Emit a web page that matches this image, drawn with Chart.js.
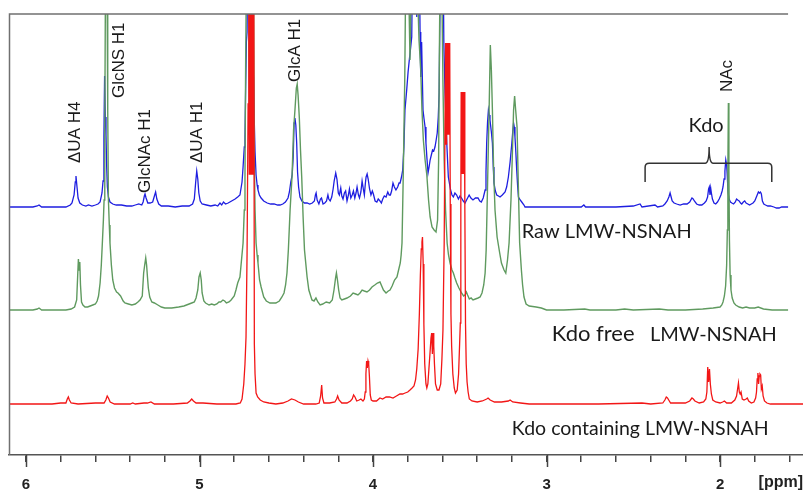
<!DOCTYPE html>
<html><head><meta charset="utf-8">
<script src="https://cdn.jsdelivr.net/npm/chart.js@4/dist/chart.umd.min.js"></script>
<style>html,body{margin:0;padding:0;background:#fff;}canvas{display:block}</style>
</head><body>
<canvas id="c" width="803" height="493"></canvas>
<script>
// ================= DATA (chemical shift in ppm, intensity above each trace's baseline) =================
const seriesNames = ['Raw LMW-NSNAH', 'Kdo free LMW-NSNAH', 'Kdo containing LMW-NSNAH'];
const xTickValues = [6, 5.8, 5.6, 5.4, 5.2, 5, 4.8, 4.6, 4.4, 4.2, 4, 3.8, 3.6, 3.4, 3.2, 3, 2.8, 2.6, 2.4, 2.2, 2, 1.8, 1.6];
const xUnit = '[ppm]';

// Raw LMW-NSNAH (blue)
const rawSpectrum = [[6.098,0],[5.96,0],[5.935,1],[5.925,2],[5.91,0],[5.77,0],[5.745,2],[5.735,4],[5.723,12],[5.716,25],[5.712,31],[5.706,20],[5.700,9],[5.69,4],[5.675,2],[5.655,1],[5.64,2],[5.62,1],[5.60,2],[5.585,3],[5.573,5],[5.562,14],[5.556,26],[5.551,70],[5.547,131],[5.543,90],[5.539,72],[5.535,40],[5.531,20],[5.525,10],[5.516,5],[5.50,3],[5.48,2],[5.45,2],[5.42,1],[5.39,1],[5.37,2],[5.35,3],[5.333,2],[5.325,5],[5.318,11],[5.314,13],[5.308,9],[5.298,4],[5.285,4],[5.27,5],[5.26,11],[5.253,15],[5.246,8],[5.235,3],[5.22,1],[5.18,1],[5.14,0],[5.10,1],[5.06,1],[5.04,3],[5.03,8],[5.022,25],[5.016,36],[5.010,28],[5.004,14],[4.996,6],[4.985,3],[4.96,2],[4.935,1],[4.91,2],[4.895,1],[4.882,4],[4.872,2],[4.862,5],[4.85,3],[4.835,4],[4.815,6],[4.795,8],[4.78,10],[4.767,12],[4.755,25],[4.749,40],[4.742,60],[4.738,69],[4.734,120],[4.73,165],[4.726,175],[4.72,300],[4.70,300],[4.694,145],[4.689,130],[4.685,90],[4.680,55],[4.674,32],[4.668,22],[4.663,17],[4.655,12],[4.645,9],[4.63,6],[4.61,4],[4.59,3],[4.57,3],[4.55,2],[4.536,2],[4.52,3],[4.505,5],[4.49,9],[4.482,15],[4.474,25],[4.466,32],[4.46,50],[4.455,84],[4.450,89],[4.445,82],[4.440,64],[4.435,35],[4.429,20],[4.421,10],[4.41,6],[4.395,4],[4.38,4],[4.365,3],[4.35,4],[4.338,6],[4.332,12],[4.328,14],[4.322,7],[4.312,3],[4.303,8],[4.297,9],[4.288,3],[4.278,4],[4.268,6],[4.26,12],[4.255,8],[4.247,6],[4.238,10],[4.23,18],[4.224,26],[4.215,34],[4.208,28],[4.20,14],[4.194,12],[4.186,19],[4.18,11],[4.173,8],[4.165,14],[4.158,16],[4.15,6],[4.142,12],[4.136,18],[4.128,9],[4.12,12],[4.113,16],[4.105,9],[4.098,14],[4.092,20],[4.084,12],[4.078,9],[4.07,15],[4.063,26],[4.056,18],[4.05,12],[4.044,24],[4.04,30],[4.034,33],[4.028,28],[4.02,18],[4.012,12],[4.004,16],[3.998,13],[3.988,6],[3.978,5],[3.97,8],[3.96,6],[3.952,4],[3.944,8],[3.935,11],[3.925,10],[3.915,15],[3.907,12],[3.90,12],[3.893,16],[3.885,24],[3.877,20],[3.868,17],[3.858,20],[3.85,24],[3.844,24],[3.836,30],[3.829,37],[3.822,60],[3.816,97],[3.806,117],[3.798,135],[3.791,147],[3.784,158],[3.777,170],[3.772,250],[3.769,300],[3.752,300],[3.748,190],[3.744,300],[3.736,300],[3.729,175],[3.725,130],[3.72,165],[3.712,97],[3.706,88],[3.700,80],[3.695,64],[3.689,48],[3.683,34],[3.677,40],[3.671,47],[3.664,52],[3.657,57],[3.65,56],[3.643,60],[3.637,66],[3.63,74],[3.624,90],[3.619,114],[3.614,200],[3.611,300],[3.598,300],[3.592,164],[3.585,114],[3.58,90],[3.575,64],[3.566,30],[3.553,17],[3.545,12],[3.537,10],[3.528,14],[3.518,12],[3.508,8],[3.499,11],[3.49,9],[3.48,6],[3.47,4],[3.458,8],[3.446,12],[3.436,9],[3.424,7],[3.41,9],[3.395,9],[3.385,6],[3.376,5],[3.365,9],[3.354,17],[3.349,35],[3.345,64],[3.34,85],[3.335,97],[3.33,92],[3.326,87],[3.318,75],[3.312,64],[3.307,40],[3.303,24],[3.295,16],[3.287,12],[3.277,11],[3.268,10],[3.255,12],[3.239,15],[3.23,20],[3.22,30],[3.21,45],[3.2,64],[3.195,75],[3.19,84],[3.186,80],[3.182,70],[3.177,55],[3.172,37],[3.167,22],[3.162,10],[3.152,7],[3.143,5],[3.13,2],[3.124,0],[3.0,0],[2.8,0],[2.785,2],[2.775,0],[2.60,0],[2.50,1],[2.461,3],[2.45,0],[2.375,2],[2.36,0],[2.33,1],[2.318,3],[2.305,6],[2.295,10],[2.288,14],[2.282,10],[2.276,6],[2.265,4],[2.25,3],[2.23,2],[2.21,3],[2.19,3],[2.175,5],[2.162,9],[2.155,8],[2.148,6],[2.135,3],[2.12,2],[2.105,2],[2.09,4],[2.08,6],[2.072,10],[2.066,18],[2.062,20],[2.058,12],[2.054,19],[2.05,14],[2.044,8],[2.035,4],[2.025,3],[2.015,5],[2.005,8],[1.995,12],[1.988,16],[1.983,20],[1.977,28],[1.972,36],[1.967,47],[1.962,42],[1.958,30],[1.954,15],[1.948,8],[1.94,5],[1.932,4],[1.922,3],[1.912,5],[1.905,8],[1.898,7],[1.89,6],[1.882,4],[1.875,3],[1.866,5],[1.858,6],[1.85,4],[1.84,3],[1.83,2],[1.82,3],[1.81,4],[1.8,6],[1.793,9],[1.786,12],[1.779,15],[1.773,14],[1.767,15],[1.762,13],[1.756,6],[1.748,3],[1.738,2],[1.725,1],[1.71,1],[1.69,0],[1.675,-1],[1.66,-1],[1.645,0],[1.608,0]];

// Kdo free LMW-NSNAH (green)
const kdoFreeSpectrum = [[6.098,0],[5.96,0],[5.935,1],[5.925,2],[5.91,0],[5.77,0],[5.74,1],[5.72,3],[5.708,10],[5.702,35],[5.698,51],[5.694,40],[5.69,48],[5.686,25],[5.68,8],[5.672,5],[5.66,3],[5.645,3],[5.63,4],[5.615,5],[5.60,6],[5.59,9],[5.582,14],[5.573,27],[5.566,45],[5.56,67],[5.554,90],[5.55,110],[5.546,180],[5.542,330],[5.533,330],[5.529,200],[5.525,110],[5.52,85],[5.516,67],[5.508,45],[5.50,30],[5.49,22],[5.478,18],[5.47,17],[5.455,14],[5.44,9],[5.43,7],[5.41,6],[5.39,5],[5.37,6],[5.355,8],[5.343,10],[5.33,14],[5.322,37],[5.316,45],[5.310,52],[5.305,45],[5.300,33],[5.295,22],[5.287,13],[5.275,8],[5.26,7],[5.24,5],[5.22,3],[5.20,2],[5.16,2],[5.12,3],[5.09,4],[5.06,6],[5.045,7],[5.03,8],[5.02,12],[5.01,20],[5.003,33],[4.996,37],[4.99,30],[4.985,17],[4.975,9],[4.965,7],[4.945,5],[4.93,6],[4.915,5],[4.90,6],[4.888,8],[4.878,8],[4.865,10],[4.855,9],[4.845,7],[4.83,8],[4.818,10],[4.80,14],[4.79,20],[4.78,27],[4.767,33],[4.758,50],[4.749,67],[4.742,100],[4.738,133],[4.734,250],[4.730,330],[4.717,330],[4.712,200],[4.706,330],[4.689,330],[4.684,150],[4.680,100],[4.674,67],[4.668,55],[4.663,47],[4.654,30],[4.645,23],[4.63,13],[4.615,9],[4.594,7],[4.56,7],[4.54,9],[4.525,13],[4.513,17],[4.504,25],[4.496,37],[4.488,60],[4.478,100],[4.467,133],[4.458,180],[4.45,200],[4.442,222],[4.437,226],[4.432,215],[4.425,193],[4.418,160],[4.411,133],[4.403,93],[4.395,60],[4.38,33],[4.37,20],[4.352,10],[4.34,9],[4.329,12],[4.318,8],[4.305,5],[4.29,6],[4.27,8],[4.25,7],[4.235,10],[4.225,20],[4.216,32],[4.211,37],[4.205,30],[4.198,20],[4.19,12],[4.18,10],[4.165,11],[4.15,12],[4.13,14],[4.115,17],[4.1,16],[4.087,15],[4.075,17],[4.063,20],[4.05,19],[4.035,18],[4.02,20],[4.006,23],[3.99,25],[3.975,27],[3.96,28],[3.95,24],[3.94,20],[3.925,17],[3.912,19],[3.902,20],[3.89,24],[3.876,30],[3.862,33],[3.85,42],[3.843,47],[3.838,55],[3.833,67],[3.826,133],[3.817,233],[3.812,330],[3.795,330],[3.787,250],[3.78,330],[3.745,330],[3.735,270],[3.725,240],[3.718,200],[3.71,170],[3.70,150],[3.69,135],[3.68,110],[3.671,93],[3.66,83],[3.648,80],[3.637,78],[3.628,90],[3.622,150],[3.618,250],[3.614,330],[3.604,330],[3.597,227],[3.59,150],[3.582,100],[3.573,67],[3.565,55],[3.556,47],[3.545,40],[3.537,37],[3.528,32],[3.518,27],[3.505,22],[3.49,17],[3.478,14],[3.47,15],[3.462,18],[3.455,15],[3.445,11],[3.435,12],[3.424,10],[3.41,11],[3.395,12],[3.383,13],[3.372,17],[3.362,25],[3.354,37],[3.348,60],[3.343,100],[3.337,150],[3.331,200],[3.324,265],[3.318,240],[3.312,200],[3.305,140],[3.297,100],[3.285,73],[3.27,57],[3.26,47],[3.245,40],[3.235,37],[3.225,50],[3.216,67],[3.205,110],[3.198,150],[3.19,200],[3.184,214],[3.178,200],[3.17,183],[3.162,120],[3.155,67],[3.145,40],[3.138,25],[3.13,13],[3.118,6],[3.1,4],[3.06,3],[3.03,2],[3.0,0],[2.9,0],[2.78,1],[2.75,0],[2.6,0],[2.55,1],[2.5,0],[2.35,1],[2.3,0],[2.2,0],[2.1,1],[2.04,2],[2.0,3],[1.99,5],[1.983,8],[1.975,14],[1.968,24],[1.962,45],[1.958,80],[1.955,140],[1.952,207],[1.949,140],[1.946,70],[1.942,35],[1.937,20],[1.93,12],[1.92,7],[1.91,5],[1.89,3],[1.87,2],[1.85,3],[1.83,2],[1.8,2],[1.78,3],[1.75,1],[1.7,0],[1.608,0]];

// Kdo containing LMW-NSNAH (red)
const kdoContainingSpectrum = [[6.098,0],[5.85,0],[5.80,1],[5.77,1],[5.762,5],[5.756,7],[5.75,4],[5.74,1],[5.70,0],[5.60,1],[5.55,1],[5.54,4],[5.532,8],[5.525,6],[5.515,2],[5.49,0],[5.40,0],[5.385,1],[5.37,0],[5.32,1],[5.30,1],[5.28,2],[5.26,0],[5.15,0],[5.07,1],[5.055,3],[5.045,5],[5.035,3],[5.02,1],[4.98,1],[4.90,0],[4.79,0],[4.765,1],[4.755,5],[4.745,20],[4.738,40],[4.732,67],[4.726,150],[4.72,300],[4.716,420],[4.713,230],[4.71,420],[4.707,230],[4.704,420],[4.701,230],[4.698,420],[4.695,230],[4.692,420],[4.689,230],[4.687,420],[4.684,60],[4.68,30],[4.674,11],[4.665,7],[4.65,4],[4.63,2],[4.60,1],[4.56,0],[4.52,1],[4.49,3],[4.47,5],[4.45,4],[4.43,2],[4.40,0],[4.33,0],[4.31,1],[4.302,8],[4.296,19],[4.291,6],[4.283,1],[4.25,1],[4.22,2],[4.21,5],[4.204,8],[4.196,4],[4.18,1],[4.15,1],[4.13,3],[4.12,5],[4.112,9],[4.104,7],[4.094,3],[4.08,4],[4.07,5],[4.058,3],[4.05,5],[4.045,12],[4.041,30],[4.037,43],[4.033,36],[4.029,43],[4.025,40],[4.021,28],[4.016,9],[4.01,4],[4.0,3],[3.98,3],[3.96,6],[3.945,5],[3.925,7],[3.905,7],[3.885,6],[3.865,8],[3.845,10],[3.83,10],[3.815,11],[3.80,12],[3.787,14],[3.775,16],[3.764,18],[3.755,24],[3.748,35],[3.74,55],[3.733,90],[3.727,130],[3.722,155],[3.718,162],[3.715,167],[3.711,140],[3.707,80],[3.702,40],[3.695,20],[3.69,16],[3.684,20],[3.678,35],[3.672,50],[3.666,66],[3.662,71],[3.658,50],[3.654,71],[3.65,58],[3.646,40],[3.64,20],[3.63,14],[3.62,14],[3.61,20],[3.603,45],[3.597,74],[3.590,160],[3.582,361],[3.579,260],[3.576,361],[3.573,270],[3.570,361],[3.567,270],[3.564,361],[3.561,270],[3.558,361],[3.555,200],[3.551,90],[3.547,58],[3.54,30],[3.532,16],[3.525,11],[3.515,14],[3.507,30],[3.501,60],[3.497,81],[3.494,200],[3.492,312],[3.489,230],[3.486,312],[3.483,230],[3.480,312],[3.477,230],[3.474,312],[3.471,200],[3.467,80],[3.463,40],[3.458,22],[3.452,12],[3.445,5],[3.43,3],[3.40,2],[3.37,3],[3.345,5],[3.337,6],[3.325,4],[3.30,2],[3.26,2],[3.22,3],[3.21,4],[3.195,2],[3.15,1],[3.1,0],[2.7,0],[2.45,1],[2.4,0],[2.33,1],[2.318,4],[2.31,7],[2.303,6],[2.296,4],[2.285,1],[2.2,1],[2.175,3],[2.162,6],[2.154,5],[2.145,3],[2.12,1],[2.095,2],[2.082,5],[2.076,12],[2.071,37],[2.066,22],[2.061,35],[2.056,20],[2.05,10],[2.042,4],[2.025,2],[2.0,1],[1.985,2],[1.975,3],[1.962,1],[1.935,1],[1.915,4],[1.905,8],[1.899,15],[1.894,21],[1.889,12],[1.884,10],[1.879,12],[1.872,5],[1.862,4],[1.85,5],[1.843,6],[1.835,3],[1.82,1],[1.805,2],[1.795,6],[1.79,12],[1.786,25],[1.782,31],[1.778,20],[1.774,28],[1.77,30],[1.766,29],[1.762,15],[1.757,18],[1.752,8],[1.744,3],[1.73,1],[1.71,0],[1.522,0]];

// Peak assignment labels and the shifts they mark
const peakLabels = ['\u0394UA H4', 'GlcNS H1', 'GlcNAc H1', '\u0394UA H1', 'GlcA H1', 'NAc'];
const peakLabelShifts = [5.718, 5.464, 5.314, 5.014, 4.450, 1.960];

// ================= LAYOUT / STYLE =================
const traceOffsets = [248, 145, 51];           // vertical stacking of the three traces
const traceColors = ['#1e1ee0', '#5f9a5f', '#f21616'];
const peakLabelBottoms = [292, 357, 262, 292, 373, 363];  // y-value where rotated label text starts
const traceTitles = [
  {parts: [{t: 'Raw LMW-NSNAH', size: 20}], ppm: 3.143, yv: 217},
  {parts: [{t: 'Kdo free', size: 22}, {t: '   ', size: 20}, {t: 'LMW-NSNAH', size: 20}], ppm: 2.970, yv: 114},
  {parts: [{t: 'Kdo containing LMW-NSNAH', size: 19.5}], ppm: 3.200, yv: 20}
];
const kdoBrace = {from: 2.432, to: 1.702, mid: 2.063, yLine: 291.7, yEnd: 273, yTip: 308, label: 'Kdo', labelY: 323};
const frameTopEnd = 1.608;

const toXY = (arr, off) => arr.map(p => ({x: p[0], y: p[1] + off}));
const spectra = [rawSpectrum, kdoFreeSpectrum, kdoContainingSpectrum];

// draw order: red on top, then green, then blue underneath
const datasets = [2, 1, 0].map(i => ({
  label: seriesNames[i],
  data: toXY(spectra[i], traceOffsets[i]),
  showLine: true,
  borderColor: traceColors[i],
  backgroundColor: traceColors[i],
  borderWidth: i === 1 ? 1.4 : 1.3,
  pointRadius: 0,
  tension: 0,
  fill: false
}));

const overlay = {
  id: 'overlay',
  afterDatasetsDraw(chart) {
    const {ctx, chartArea: a, scales: {x, y}} = chart;
    ctx.save();
    // frame (left + top)
    ctx.strokeStyle = '#707070'; ctx.lineWidth = 1.5;
    ctx.beginPath();
    ctx.moveTo(a.left + 0.5, a.bottom); ctx.lineTo(a.left + 0.5, a.top); ctx.lineTo(x.getPixelForValue(frameTopEnd), a.top);
    ctx.stroke();
    // longer major ticks
    ctx.strokeStyle = '#444'; ctx.lineWidth = 1.5;
    xTickValues.filter(v => Number.isInteger(v)).forEach(v => {
      const px = Math.round(x.getPixelForValue(v)) + 0.5;
      ctx.beginPath(); ctx.moveTo(px, a.bottom); ctx.lineTo(px, a.bottom + 12); ctx.stroke();
    });
    // unit label
    ctx.fillStyle = '#222'; ctx.font = 'bold 16px "Liberation Sans", Arial, sans-serif';
    ctx.textAlign = 'right'; ctx.textBaseline = 'alphabetic';
    ctx.fillText(xUnit, chart.width, 487);
    // rotated peak labels
    ctx.fillStyle = '#1a1a1a'; ctx.font = '17px "Liberation Sans", Arial, sans-serif';
    peakLabels.forEach((t, i) => {
      ctx.save();
      ctx.translate(x.getPixelForValue(peakLabelShifts[i]), y.getPixelForValue(peakLabelBottoms[i]));
      ctx.rotate(-Math.PI / 2);
      ctx.textAlign = 'left'; ctx.textBaseline = 'middle';
      ctx.fillText(t, 0, 0);
      ctx.restore();
    });
    // trace titles
    ctx.fillStyle = '#1a1a1a'; ctx.textAlign = 'left'; ctx.textBaseline = 'alphabetic';
    traceTitles.forEach(tt => {
      let px = x.getPixelForValue(tt.ppm);
      const py = y.getPixelForValue(tt.yv);
      tt.parts.forEach(p => {
        ctx.font = p.size + 'px Lato, "Open Sans", sans-serif';
        ctx.fillText(p.t, px, py);
        px += ctx.measureText(p.t).width;
      });
    });
    // Kdo brace
    const bx0 = x.getPixelForValue(kdoBrace.from), bx1 = x.getPixelForValue(kdoBrace.to), bm = x.getPixelForValue(kdoBrace.mid);
    const yl = y.getPixelForValue(kdoBrace.yLine), ye = y.getPixelForValue(kdoBrace.yEnd), yt = y.getPixelForValue(kdoBrace.yTip);
    ctx.strokeStyle = '#333'; ctx.lineWidth = 1.5;
    ctx.beginPath();
    ctx.moveTo(bx0, ye); ctx.lineTo(bx0, yl + 4); ctx.quadraticCurveTo(bx0, yl, bx0 + 4, yl);
    ctx.lineTo(bm - 4, yl); ctx.quadraticCurveTo(bm, yl, bm, yt);
    ctx.quadraticCurveTo(bm, yl, bm + 4, yl);
    ctx.lineTo(bx1 - 4, yl); ctx.quadraticCurveTo(bx1, yl, bx1, yl + 4); ctx.lineTo(bx1, ye);
    ctx.stroke();
    ctx.font = '20px Lato, "Open Sans", sans-serif'; ctx.textAlign = 'center';
    ctx.fillText(kdoBrace.label, bm - 3, y.getPixelForValue(kdoBrace.labelY));
    ctx.restore();
  }
};

Chart.defaults.font.family = '"Liberation Sans", Arial, sans-serif';
new Chart(document.getElementById('c'), {
  type: 'scatter',
  data: {datasets},
  options: {
    responsive: false, animation: false, devicePixelRatio: 1,
    layout: {padding: {left: 9, right: 0, top: 14, bottom: 3}},
    plugins: {legend: {display: false}, tooltip: {enabled: false}},
    events: [],
    scales: {
      x: {
        type: 'linear', reverse: true, min: 1.522, max: 6.098,
        afterBuildTicks: s => { s.ticks = xTickValues.map(v => ({value: v})); },
        afterFit: s => { s.height = 35; },
        ticks: {
          autoSkip: false, maxRotation: 0, padding: 13.5, color: '#222',
          font: {size: 15, weight: 'bold'},
          callback: v => Number.isInteger(v) ? String(v) : ''
        },
        grid: {drawOnChartArea: false, drawTicks: true, tickLength: 7, color: '#444', lineWidth: 1.5},
        border: {display: true, color: '#555', width: 1.5}
      },
      y: {display: false, min: 0, max: 441}
    }
  },
  plugins: [overlay]
});
</script>
</body></html>
